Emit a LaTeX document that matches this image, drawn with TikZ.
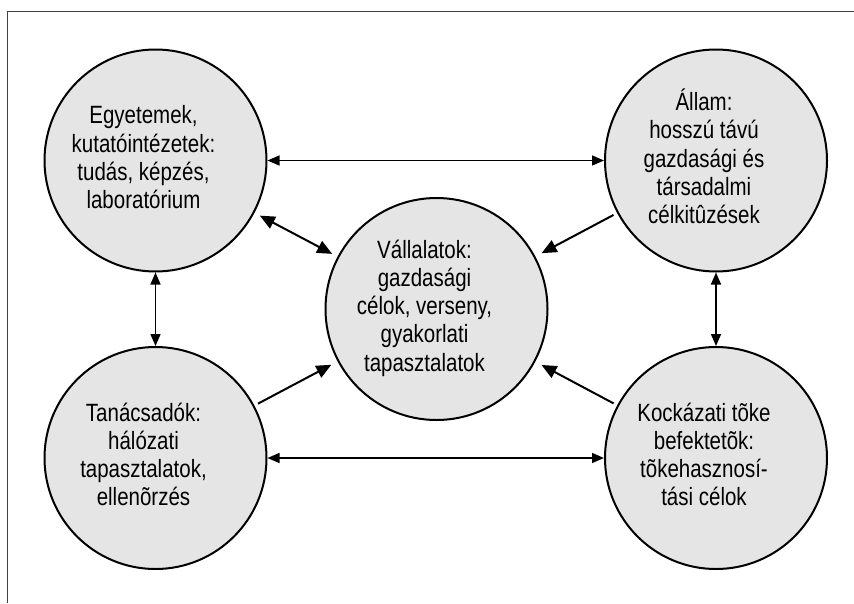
\documentclass[tikz,border=0pt]{standalone}
\usepackage{fontspec}
\setmainfont{Liberation Sans}[FakeStretch=0.82]
\usetikzlibrary{arrows.meta}
\newcommand\bubtext[1]{\begin{tabular}{@{}c@{}}#1\end{tabular}\hspace*{24pt}}
\begin{document}
\begin{tikzpicture}[x=1pt,y=-1pt,
  bub/.style={circle,draw=black,line width=2pt,fill=black!10,minimum size=222pt,inner sep=0pt,
    font=\fontsize{25}{28.2}\selectfont},
  thin arrow/.style={line width=1.5pt,{Triangle[length=12pt,width=10pt]}-{Triangle[length=12pt,width=10pt]}},
  diag/.style={line width=2pt,-{Triangle[length=15pt,width=13pt]},shorten <=4pt,shorten >=7pt},
  diagboth/.style={line width=2pt,{Triangle[length=15pt,width=13pt]}-{Triangle[length=15pt,width=13pt]},shorten <=6pt,shorten >=6pt},
  frame/.style={draw=black!75,line width=1pt}]
\useasboundingbox (0,0) rectangle (854,603);
\draw[frame] (7,603) -- (7,11) -- (854,11);
\node[bub] (tl) at (155.5,160.5) {\bubtext{Egyetemek,\\kutatóintézetek:\\tudás, képzés,\\laboratórium}};
\node[bub] (tr) at (716,160.5) {\bubtext{Állam:\\hosszú távú\\gazdasági és\\társadalmi\\célkitûzések}};
\node[bub] (bl) at (155.5,458) {\bubtext{Tanácsadók:\\hálózati\\tapasztalatok,\\ellenõrzés}};
\node[bub] (br) at (716,458) {\bubtext{Kockázati tõke\\befektetõk:\\tõkehasznosí-\\tási célok}};
\node[bub] (c) at (436.5,309) {\bubtext{Vállalatok:\\gazdasági\\célok, verseny,\\gyakorlati\\tapasztalatok}};
\draw[thin arrow] (tl.east) -- (tr.west);
\draw[thin arrow] (bl.east) -- (br.west);
\draw[thin arrow] (tl.south) -- (bl.north);
\draw[thin arrow] (tr.south) -- (br.north);
\draw[diagboth] (tl) -- (c);
\draw[diag] (tr) -- (c);
\draw[diag] (bl) -- (c);
\draw[diag] (br) -- (c);
\end{tikzpicture}
\end{document}
